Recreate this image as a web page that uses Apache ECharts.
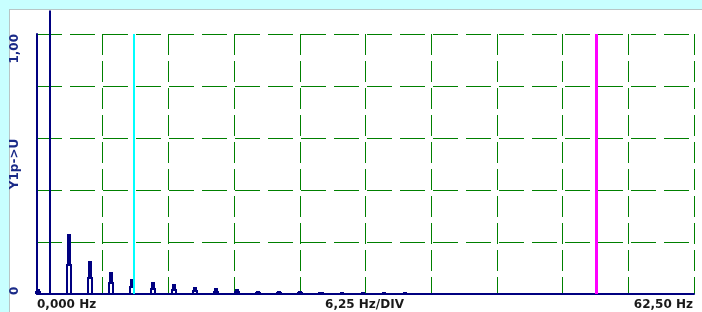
<!DOCTYPE html>
<html>
<head>
<meta charset="utf-8">
<script src="https://cdn.jsdelivr.net/npm/echarts@6/dist/echarts.min.js"></script>
<style>
html, body { margin: 0; padding: 0; background: #c8ffff; }
#spec { width: 702px; height: 312px; }
</style>
</head>
<body>
<div id="spec"></div>
<script>
// spectrum peaks (Hz, amplitude in Y1p->U units)
var peakFreq = [0.1, 3, 5, 7, 9, 11, 13, 15, 17, 19, 21, 23, 25, 27, 29, 31, 33, 35];
var peakAmp  = [0.015, 0.226, 0.124, 0.082, 0.054, 0.041, 0.033, 0.022, 0.018, 0.014, 0.009, 0.008, 0.007, 0.004, 0.003, 0.003, 0.003, 0.003];
// fundamental, off scale
var fundFreq = 1.2;
var fundAmp = 1.09;
// cursors
var cursorCyan = 9.2;
var cursorMagenta = 53.2;

var xMin = 0, xMax = 62.5, xDiv = 6.25;
var yMin = 0, yMax = 1, yDiv = 0.2;
var xTickLabels = ['0,000 Hz', '62,50 Hz'];
var xDivLabel = '6,25 Hz/DIV';
var yTickLabels = ['0', '1,00'];
var yName = 'Y1p->U';

var NAVY = '#000080';
var FONT = '"DejaVu Sans", Verdana, sans-serif';

var peakData = [];
for (var i = 0; i < peakFreq.length; i++) {
	peakData.push([peakFreq[i], peakAmp[i]]);
}

var myChart = echarts.init(document.getElementById('spec'));

// narrow solid spike on top of a wider hollow base
function drawPeak(params, api) {
	var f = api.value(0), h = api.value(1);
	var p0 = api.coord([f, 0]);
	var pm = api.coord([f, h / 2]);
	var pt = api.coord([f, h]);
	var x = Math.round(p0[0]);
	var yb = p0[1], ym = Math.round(pm[1]), yt = Math.round(pt[1]);
	return {
		type: 'polyline',
		shape: {
			points: [[x - 2, yb], [x - 2, ym], [x - 1, ym], [x - 1, yt], [x + 1, yt],
				[x + 1, ym], [x + 2, ym], [x + 2, yb]]
		},
		style: { stroke: NAVY, lineWidth: 2, fill: null, lineJoin: 'miter' }
	};
}

function drawFund(params, api) {
	var p0 = api.coord([api.value(0), 0]);
	var pt = api.coord([api.value(0), api.value(1)]);
	var x = Math.round(p0[0]);
	return {
		type: 'line',
		shape: { x1: x, y1: p0[1], x2: x, y2: pt[1] },
		style: { stroke: NAVY, lineWidth: 2 }
	};
}

var option = {
	backgroundColor: '#c8ffff',
	animation: false,
	grid: { left: 37, top: 34, width: 657, height: 260 },
	xAxis: {
		type: 'value',
		min: xMin, max: xMax, interval: xDiv,
		axisLine: { show: true, onZero: false, lineStyle: { color: NAVY, width: 2 } },
		axisTick: { show: false },
		axisLabel: { show: false },
		splitLine: { show: true, lineStyle: { color: '#008000', width: 1, type: [21, 6] } }
	},
	yAxis: {
		type: 'value',
		min: yMin, max: yMax, interval: yDiv,
		axisLine: { show: true, lineStyle: { color: NAVY, width: 2 } },
		axisTick: { show: false },
		axisLabel: { show: false },
		splitLine: { show: true, lineStyle: { color: '#008000', width: 1, type: [25, 8] } }
	},
	series: [
		{
			type: 'custom',
			renderItem: drawPeak,
			data: peakData,
			clip: false,
			z: 3
		},
		{
			type: 'custom',
			renderItem: drawFund,
			data: [[fundFreq, fundAmp]],
			clip: false,
			z: 3,
			markLine: {
				silent: true,
				symbol: ['none', 'none'],
				label: { show: false },
				data: [
					{ xAxis: cursorCyan, lineStyle: { color: '#00ffff', width: 2, type: 'solid' } },
					{ xAxis: cursorMagenta, lineStyle: { color: '#ff00ff', width: 3, type: 'solid' } }
				]
			}
		}
	]
};
myChart.setOption(option);

// panel and texts placed from the axis scales
var g = [{
	type: 'rect',
	z: -10,
	shape: { x: 9.5, y: 9.5, width: 720, height: 330 },
	style: { fill: '#ffffff', stroke: '#8c8c8c', lineWidth: 1, lineDash: [1, 1] }
}];
var px0 = myChart.convertToPixel({ gridIndex: 0 }, [xMin, yMin]);
var px1 = myChart.convertToPixel({ gridIndex: 0 }, [xMax, yMax]);
var textStyle = { fontFamily: FONT, fontSize: 12, fontWeight: 'bold' };

g.push({ type: 'text', x: px0[0], y: px0[1] + 11,
	style: Object.assign({ text: xTickLabels[0], fill: '#1a1a1a', align: 'left', verticalAlign: 'middle' }, textStyle) });
g.push({ type: 'text', x: px1[0] - 1, y: px0[1] + 11,
	style: Object.assign({ text: xTickLabels[1], fill: '#1a1a1a', align: 'right', verticalAlign: 'middle' }, textStyle) });
g.push({ type: 'text', x: (px0[0] + px1[0]) / 2 - 1, y: px0[1] + 11,
	style: Object.assign({ text: xDivLabel, fill: '#1a1a1a', align: 'center', verticalAlign: 'middle' }, textStyle) });

g.push({ type: 'text', x: 15, y: px0[1] + 1, rotation: Math.PI / 2,
	style: Object.assign({ text: yTickLabels[0], fill: '#1a2a88', align: 'left', verticalAlign: 'middle' }, textStyle) });
g.push({ type: 'text', x: 15, y: px1[1], rotation: Math.PI / 2,
	style: Object.assign({ text: yTickLabels[1], fill: '#1a2a88', align: 'right', verticalAlign: 'middle' }, textStyle) });
g.push({ type: 'text', x: 15, y: (px0[1] + px1[1]) / 2, rotation: Math.PI / 2,
	style: Object.assign({ text: yName, fill: '#1a2a88', align: 'center', verticalAlign: 'middle' }, textStyle) });

myChart.setOption({ graphic: g });
</script>
</body>
</html>
